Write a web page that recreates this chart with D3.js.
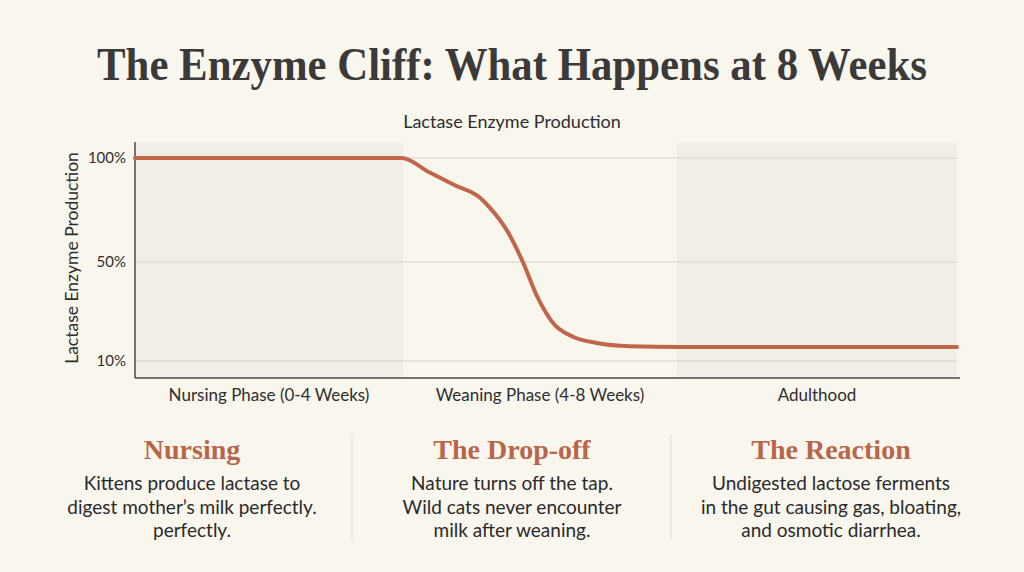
<!DOCTYPE html>
<html>
<head>
<meta charset="utf-8">
<script src="https://cdn.jsdelivr.net/npm/d3@7"></script>
<style>
  html, body { margin: 0; padding: 0; background: #f9f6ee; }
  svg { display: block; }
</style>
</head>
<body>
<svg width="1024" height="572"></svg>
<script>
// données
const weeks = [0, 1, 2, 3, 3.98, 4.39, 4.75, 5.12, 5.27, 5.52, 5.75, 5.96, 6.19, 6.48, 6.83, 7.31, 8.04, 9, 10, 11, 12];
const production = [100, 100, 100, 100, 100, 93, 87, 81, 76, 65, 50, 36, 25.4, 19.8, 17.3, 16, 15.7, 15.7, 15.7, 15.7, 15.7];
const phases = ['Nursing Phase (0-4 Weeks)', 'Weaning Phase (4-8 Weeks)', 'Adulthood'];
const phaseStart = [0, 4, 8];
const phaseEnd = [4, 8, 12];
const phaseShaded = [true, false, true];
const yTicks = [100, 50, 10];
const headings = ['Nursing', 'The Drop-off', 'The Reaction'];
const bodies = [
  ['Kittens produce lactase to', 'digest mother\u2019s milk perfectly.', 'perfectly.'],
  ['Nature turns off the tap.', 'Wild cats never encounter', 'milk after weaning.'],
  ['Undigested lactose ferments', 'in the gut causing gas, bloating,', 'and osmotic diarrhea.']
];

const svg = d3.select('svg');
const serif = "'Liberation Serif', 'DejaVu Serif', serif";
const sans = "Lato, 'Open Sans', sans-serif";

// titre
svg.append('text')
  .attr('x', 512).attr('y', 80)
  .attr('text-anchor', 'middle')
  .attr('font-family', serif).attr('font-weight', 700)
  .attr('font-size', 46).attr('fill', '#3b3a38')
  .attr('textLength', 830).attr('lengthAdjust', 'spacingAndGlyphs')
  .text('The Enzyme Cliff: What Happens at 8 Weeks');

svg.append('text')
  .attr('x', 512).attr('y', 128)
  .attr('text-anchor', 'middle')
  .attr('font-family', sans).attr('font-size', 18).attr('fill', '#2e2e2e')
  .text('Lactase Enzyme Production');

// échelles
const plotL = 135, plotR = 957, plotT = 142, plotB = 378;
const x = d3.scaleLinear().domain([0, 4, 8, 12]).range([plotL, 403, 677, plotR]);
const y = d3.scaleLinear().domain([10, 50, 100]).range([361, 262, 158]);

// bandes de phases
svg.append('g').selectAll('rect')
  .data(phases.map((p, i) => ({p, s: phaseStart[i], e: phaseEnd[i], shaded: phaseShaded[i]})).filter(d => d.shaded))
  .join('rect')
  .attr('x', d => x(d.s)).attr('width', d => x(d.e) - x(d.s))
  .attr('y', plotT).attr('height', plotB - plotT)
  .attr('fill', '#f0eee7');

// grille
svg.append('g').selectAll('line')
  .data(yTicks)
  .join('line')
  .attr('x1', plotL).attr('x2', plotR)
  .attr('y1', d => y(d)).attr('y2', d => y(d))
  .attr('stroke', '#d6d3cb').attr('stroke-width', 1);

// axe Y
const yAxis = svg.append('g')
  .attr('transform', `translate(${plotL},0)`)
  .call(d3.axisLeft(y).tickValues(yTicks).tickFormat(d => d + '%').tickSize(0).tickPadding(9));
yAxis.select('.domain').remove();
yAxis.selectAll('text').attr('font-family', sans).attr('font-size', 15).attr('fill', '#2e2e2e');

svg.append('line')
  .attr('x1', plotL).attr('x2', plotL).attr('y1', plotT).attr('y2', plotB)
  .attr('stroke', '#4a4844').attr('stroke-width', 1.5);
svg.append('line')
  .attr('x1', plotL).attr('x2', plotR + 3).attr('y1', plotB).attr('y2', plotB)
  .attr('stroke', '#4a4844').attr('stroke-width', 1.5);

svg.append('text')
  .attr('transform', 'translate(78,258) rotate(-90)')
  .attr('text-anchor', 'middle')
  .attr('font-family', sans).attr('font-size', 17.5).attr('fill', '#2e2e2e')
  .text('Lactase Enzyme Production');

// libellés des phases
svg.append('g').selectAll('text')
  .data(phases)
  .join('text')
  .attr('x', (d, i) => x((phaseStart[i] + phaseEnd[i]) / 2))
  .attr('y', 401)
  .attr('text-anchor', 'middle')
  .attr('font-family', sans).attr('font-size', 17).attr('fill', '#2e2e2e')
  .text(d => d);

// courbe
const line = d3.line()
  .x((d, i) => x(weeks[i]))
  .y(d => y(d))
  .curve(d3.curveMonotoneX);
svg.append('path')
  .datum(production)
  .attr('d', line)
  .attr('fill', 'none')
  .attr('stroke', '#c2664b')
  .attr('stroke-width', 4)
  .attr('stroke-linecap', 'round');

// colonnes de texte
const colX = [192, 512, 831];
svg.append('g').selectAll('line')
  .data([352, 671])
  .join('line')
  .attr('x1', d => d).attr('x2', d => d)
  .attr('y1', 435).attr('y2', 540)
  .attr('stroke', '#dedbd3').attr('stroke-width', 1);

const cols = svg.append('g').selectAll('g')
  .data(headings)
  .join('g')
  .attr('transform', (d, i) => `translate(${colX[i]},0)`);

cols.append('text')
  .attr('y', 459)
  .attr('text-anchor', 'middle')
  .attr('font-family', serif).attr('font-weight', 700)
  .attr('font-size', 28).attr('fill', '#b8664a')
  .text(d => d);

cols.each(function(d, i) {
  d3.select(this).selectAll('text.body')
    .data(bodies[i])
    .join('text')
    .attr('class', 'body')
    .attr('y', (t, j) => 490 + j * 23.5)
    .attr('text-anchor', 'middle')
    .attr('font-family', sans).attr('font-size', 19).attr('fill', '#2a2a2a')
    .text(t => t);
});
</script>
</body>
</html>
